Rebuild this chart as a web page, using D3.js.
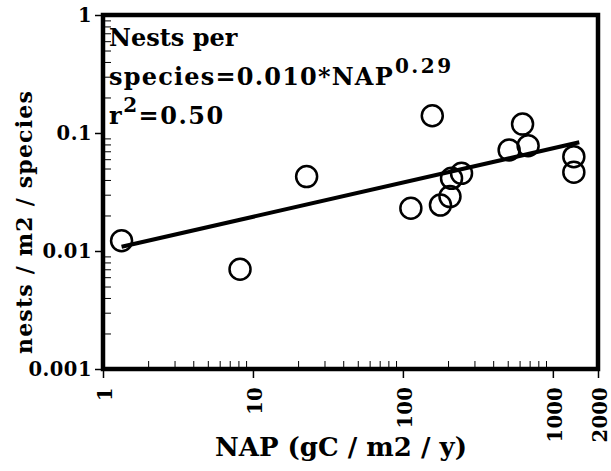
<!DOCTYPE html>
<html>
<head>
<meta charset="utf-8">
<script src="https://cdn.jsdelivr.net/npm/d3@7"></script>
<style>
  html, body { margin: 0; padding: 0; background: #fff; }
  svg { display: block; }
  text { font-family: "DejaVu Serif", serif; font-weight: bold; fill: #000; }
</style>
</head>
<body>
<svg id="chart" width="611" height="471"></svg>
<script>
// Net aboveground productivity (gC/m2/y) vs. nest density per species
const napValues   = [1.33, 8.2, 22.8, 113, 157, 178, 206, 211, 246, 511, 628, 684, 1380, 1380];
const nestDensity = [0.0122, 0.0070, 0.0427, 0.023, 0.140, 0.0245, 0.0289, 0.0413, 0.0455, 0.0718, 0.119, 0.078, 0.063, 0.0465];

// Power-law fit: nests per species = a * NAP^b
const fitCoef  = [0.010, 0.29];
const fitRange = [1.33, 1500];
const fitR2 = 0.50;

const xTickValues = [1, 10, 100, 1000, 2000];
const xTickLabels = ["1", "10", "100", "1000", "2000"];
const yTickValues = [0.001, 0.01, 0.1, 1];
const yTickLabels = ["0.001", "0.01", "0.1", "1"];

const svg = d3.select("#chart");
const plot = { left: 103, right: 598, top: 15, bottom: 369 };

const x = d3.scaleLog().domain([1, 2000]).range([plot.left, plot.right]);
const y = d3.scaleLog().domain([0.001, 1]).range([plot.bottom, plot.top]);

// minor ticks: 2..9 within each decade
const xMinor = [];
[1, 10, 100].forEach(d => { for (let k = 2; k <= 9; k++) xMinor.push(d * k); });
const yMinor = [];
[0.001, 0.01, 0.1].forEach(d => { for (let k = 2; k <= 9; k++) yMinor.push(d * k); });

// x axis, major ticks outward with rotated labels
const gx = svg.append("g").attr("transform", `translate(0,${plot.bottom})`)
  .call(d3.axisBottom(x).tickValues(xTickValues).tickSize(9).tickSizeOuter(0)
        .tickFormat((d, i) => xTickLabels[i]));
gx.select(".domain").remove();
gx.selectAll(".tick line").attr("stroke", "#000").attr("stroke-width", 1.5);
gx.selectAll(".tick text")
  .attr("transform", "rotate(-90)")
  .attr("text-anchor", "end")
  .attr("x", -18).attr("y", 2).attr("dy", "0.35em")
  .style("font-size", "19.5px").style("letter-spacing", "0.3px")
  .style("font-family", "'DejaVu Serif', serif");

// x minor ticks inward
const gxm = svg.append("g").attr("transform", `translate(0,${plot.bottom})`)
  .call(d3.axisBottom(x).tickValues(xMinor).tickSize(-8).tickSizeOuter(0).tickFormat(""));
gxm.select(".domain").remove();
gxm.selectAll(".tick line").attr("stroke", "#000").attr("stroke-width", 1);

// y axis
const gy = svg.append("g").attr("transform", `translate(${plot.left},0)`)
  .call(d3.axisLeft(y).tickValues(yTickValues).tickSize(8).tickSizeOuter(0)
        .tickFormat((d, i) => yTickLabels[i]));
gy.select(".domain").remove();
gy.selectAll(".tick line").attr("stroke", "#000").attr("stroke-width", 1.5);
gy.selectAll(".tick text").attr("x", -11)
  .style("font-size", "19.5px").style("letter-spacing", "0.5px")
  .style("font-family", "'DejaVu Serif', serif");

const gym = svg.append("g").attr("transform", `translate(${plot.left},0)`)
  .call(d3.axisLeft(y).tickValues(yMinor).tickSize(-8).tickSizeOuter(0).tickFormat(""));
gym.select(".domain").remove();
gym.selectAll(".tick line").attr("stroke", "#000").attr("stroke-width", 1);

// frame
svg.append("rect")
  .attr("x", plot.left).attr("y", plot.top)
  .attr("width", plot.right - plot.left).attr("height", plot.bottom - plot.top)
  .attr("fill", "none").attr("stroke", "#000").attr("stroke-width", 4.5);

// fitted line
const fit = v => fitCoef[0] * Math.pow(v, fitCoef[1]);
svg.append("path")
  .datum(fitRange)
  .attr("fill", "none").attr("stroke", "#000").attr("stroke-width", 4)
  .attr("d", d3.line().x(d => x(d)).y(d => y(fit(d))));

// observations
svg.append("g").selectAll("circle")
  .data(napValues.map((v, i) => [v, nestDensity[i]]))
  .join("circle")
  .attr("cx", d => x(d[0])).attr("cy", d => y(d[1]))
  .attr("r", 10.5)
  .attr("fill", "none").attr("stroke", "#000").attr("stroke-width", 2.5);

// equation annotation
const ann = svg.append("g").style("font-size", "24px");
ann.append("text").attr("x", 109).attr("y", 46).text("Nests per");
const l2 = ann.append("text").attr("x", 109).attr("y", 85).style("letter-spacing", "1.2px");
l2.append("tspan").text(`species=${fitCoef[0].toFixed(3)}*NAP`);
l2.append("tspan").attr("dx", 1).attr("dy", -12)
  .style("font-size", "20px").style("letter-spacing", "2.5px")
  .text(fitCoef[1].toFixed(2));
const l3 = ann.append("text").attr("x", 109).attr("y", 124).style("letter-spacing", "1.5px");
l3.append("tspan").text("r");
l3.append("tspan").attr("dy", -12).style("font-size", "20px").text("2");
l3.append("tspan").attr("dy", 12).text(`=${fitR2.toFixed(2)}`);

// axis titles
svg.append("text")
  .attr("x", 341).attr("y", 456)
  .attr("text-anchor", "middle").style("font-size", "26px")
  .text("NAP (gC / m2 / y)");
svg.append("text")
  .attr("transform", "translate(32,222) rotate(-90)")
  .attr("text-anchor", "middle").style("font-size", "22px").style("letter-spacing", "1.2px")
  .text("nests / m2 / species");
</script>
</body>
</html>
